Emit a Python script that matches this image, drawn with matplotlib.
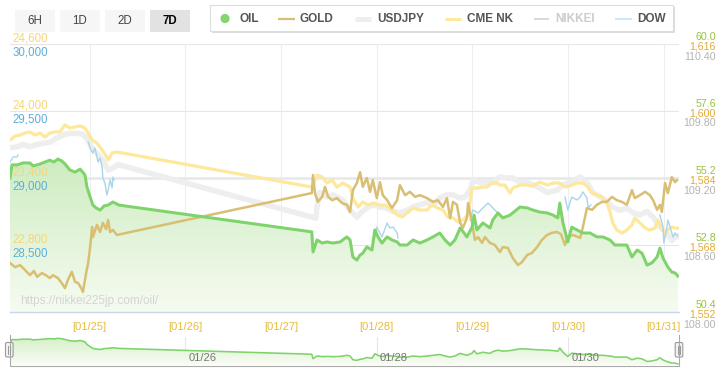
import numpy as np
import matplotlib
matplotlib.use('Agg')
import matplotlib.pyplot as plt
from matplotlib.patches import Rectangle, FancyBboxPatch, Circle
from matplotlib.transforms import blended_transform_factory, offset_copy

plt.rcParams['font.family'] = ['Liberation Sans', 'DejaVu Sans']

# ---------------- data (time = hours since 2020-01-24 00:00 JST) ----------------
oil_hours = [4.0, 4.5, 5.8, 7.3, 9.0, 9.8, 11.5, 14.0, 15.0, 16.0, 17.0, 17.8, 19.0, 20.3, 21.6, 22.8, 23.3, 24.1,
             24.8, 25.6, 26.6, 27.6, 28.6, 29.8, 30.8, 31.3,
             79.7, 80.0, 81.0, 82.3, 83.5, 85.0, 86.8, 88.5, 89.3, 90.0, 91.0, 91.8, 92.5, 93.5, 94.8, 95.5, 96.3,
             97.3, 98.6, 99.8, 101.1, 101.8, 103.6, 105.1, 106.8, 108.6, 110.1, 111.8, 113.1, 114.4, 115.6, 116.9,
             117.9, 118.6, 119.9, 120.4, 121.1, 122.6, 124.4, 125.1, 126.4, 127.6, 129.4, 130.7, 131.9, 133.7,
             135.2, 136.9, 138.7, 140.2, 141.4, 141.9, 142.7, 143.9, 144.9, 146.2, 147.7, 149.5, 151.2, 152.7,
             154.5, 155.7, 157.0, 158.7, 160.0, 161.3, 162.5, 163.8, 165.0, 166.3, 167.0, 167.8, 169.0, 170.0,
             170.8, 171.5]
oil_values = [55.20, 55.67, 55.67, 55.74, 55.74, 55.63, 55.70, 55.84, 55.77, 55.88, 55.81, 55.70, 55.49, 55.41,
              55.52, 55.31, 54.88, 54.52, 54.23, 54.13, 54.05, 54.20, 54.23, 54.34, 54.27, 54.23,
              53.27, 52.55, 52.98, 52.87, 52.91, 52.87, 52.91, 53.09, 52.98, 52.37, 52.26, 52.44, 52.51, 52.73,
              52.62, 53.34, 53.09, 52.87, 53.09, 52.98, 52.91, 52.80, 52.80, 52.98, 52.87, 52.98, 53.09, 53.23,
              52.98, 52.80, 52.98, 53.41, 53.23, 53.09, 53.44, 53.87, 53.34, 53.59, 53.41, 53.70, 53.95, 53.77,
              53.87, 54.02, 54.16, 54.13, 54.05, 53.98, 53.95, 53.87, 53.77, 54.30, 53.59, 52.91, 53.44, 53.34,
              53.23, 53.23, 53.09, 53.09, 52.98, 52.80, 52.80, 52.80, 52.37, 52.62, 52.51, 52.08, 52.16, 52.37,
              52.69, 52.33, 52.01, 51.83, 51.80, 51.69]

gold_hours = [4.0, 5.3, 6.5, 7.8, 9.0, 10.0, 10.8, 12.0, 13.0, 14.0, 14.8, 16.0, 17.0, 17.8, 18.5, 19.5, 20.3,
              21.1, 22.1, 22.3, 23.1, 23.6, 24.1, 24.6, 24.8, 25.8, 26.6, 27.3, 28.1, 28.6, 29.1, 29.8, 30.8,
              79.7, 80.0, 80.5, 81.2, 82.3, 83.0, 83.8, 84.8, 86.0, 87.3, 88.5, 89.3, 90.0, 91.0, 91.8, 92.5,
              93.5, 94.3, 95.0, 96.0, 96.8, 97.5, 98.6, 99.8, 101.1, 101.8, 103.1, 104.3, 105.6, 106.8, 108.6,
              110.1, 111.3, 112.6, 113.6, 114.4, 115.1, 116.1, 116.9, 117.6, 118.6, 118.9, 119.9, 120.6, 121.4,
              122.4, 123.1, 124.4, 125.6, 126.9, 127.6, 128.9, 130.1, 131.4, 132.4, 133.7, 134.9, 136.2, 137.4,
              138.7, 139.9, 141.2, 142.2, 143.2, 143.9, 145.2, 147.0, 147.7, 148.7, 150.0, 151.2, 152.5, 153.7,
              155.0, 156.2, 157.5, 158.7, 160.0, 160.7, 162.0, 163.3, 164.5, 165.3, 166.3, 167.0, 167.5, 168.3,
              169.0, 170.0, 170.8, 171.3]
gold_values = [1563.7, 1562.7, 1563.2, 1562.0, 1560.8, 1561.8, 1560.4, 1561.3, 1560.8, 1560.1, 1560.8, 1560.1,
               1558.9, 1557.7, 1559.6, 1561.6, 1559.2, 1558.9, 1557.3, 1556.8, 1561.3, 1563.7, 1567.5, 1572.3,
               1569.9, 1572.8, 1571.1, 1573.3, 1571.8, 1574.0, 1571.1, 1571.6, 1570.4,
               1580.4, 1584.7, 1580.4, 1578.3, 1579.5, 1581.9, 1579.5, 1578.7, 1579.2, 1578.0, 1577.6, 1575.9,
               1581.1, 1582.8, 1585.4, 1581.9, 1584.0, 1580.7, 1583.5, 1579.2, 1583.0, 1579.9, 1578.7, 1576.8,
               1578.7, 1582.3, 1579.9, 1580.7, 1579.5, 1579.9, 1579.2, 1578.3, 1578.7, 1577.1, 1579.2, 1574.4,
               1578.3, 1577.6, 1573.3, 1572.1, 1574.4, 1578.0, 1573.3, 1569.2, 1569.9, 1568.5, 1569.9, 1568.5,
               1568.0, 1566.3, 1567.5, 1567.3, 1564.9, 1563.2, 1563.9, 1565.6, 1566.1, 1567.5, 1569.2, 1570.4,
               1570.9, 1571.1, 1570.6, 1568.0, 1569.9, 1570.4, 1569.7, 1572.3, 1576.8, 1576.4, 1577.6, 1578.3,
               1578.3, 1579.5, 1578.7, 1578.3, 1577.6, 1581.1, 1579.2, 1579.9, 1580.7, 1579.9, 1578.7, 1576.4,
               1577.6, 1575.9, 1582.8, 1580.4, 1584.2, 1583.0, 1583.5]

usdjpy_hours = [4.0, 5.8, 7.3, 9.0, 10.8, 12.3, 14.0, 15.8, 17.8, 19.0, 20.8, 22.3, 23.6, 24.8, 26.1, 27.3, 28.6,
                29.8, 31.1,
                80.7, 81.0, 81.7, 83.5, 85.0, 87.5, 89.3, 91.0, 92.3, 93.5, 95.0, 96.8, 98.6, 100.1, 101.8, 103.6,
                105.1, 106.8, 108.6, 110.1, 111.8, 113.6, 115.1, 116.9, 118.1, 119.4, 120.1, 121.9, 123.6, 125.1,
                126.9, 128.6, 130.1, 131.9, 133.7, 135.2, 136.9, 138.7, 141.2, 142.7, 144.4, 147.0, 148.7, 150.2,
                152.0, 153.7, 155.2, 157.0, 158.7, 160.2, 162.0, 163.8, 165.3, 167.0, 168.8, 170.0, 170.8, 171.5]
usdjpy_values = [109.47, 109.48, 109.50, 109.48, 109.50, 109.51, 109.52, 109.56, 109.59, 109.60, 109.60, 109.59,
                 109.54, 109.45, 109.41, 109.36, 109.27, 109.29, 109.32,
                 108.84, 108.94, 109.07, 109.03, 109.05, 109.00, 108.91, 108.85, 108.90, 108.93, 108.96, 108.94,
                 108.93, 108.90, 108.89, 108.91, 108.94, 108.96, 108.98, 108.96, 109.02, 109.05, 109.05, 109.02,
                 109.03, 109.09, 109.18, 109.16, 109.16, 109.16, 109.21, 109.20, 109.20, 109.16, 109.16, 109.14,
                 109.11, 109.07, 109.09, 109.14, 109.16, 109.21, 109.16, 109.07, 109.03, 108.99, 108.94, 108.91,
                 108.93, 108.89, 108.87, 108.90, 108.85, 108.76, 108.71, 108.64, 108.67, 108.68]

cme_hours = [4.0, 5.3, 6.5, 7.8, 9.0, 10.3, 11.5, 12.8, 14.0, 15.3, 16.5, 17.8, 19.0, 20.3, 21.6, 22.8, 23.6, 24.6,
             25.8, 27.1, 28.3, 28.6, 29.6, 30.8,
             79.7, 80.0, 81.0, 82.3, 83.5, 84.8, 86.0, 87.5, 89.3, 90.0, 91.3, 92.5, 93.8, 95.0, 96.8, 98.1, 99.3,
             101.1, 102.3, 103.6, 105.1, 106.8, 108.6, 109.8, 111.3, 112.6, 113.8, 115.1, 116.4, 117.6, 118.9,
             119.9, 121.1, 122.4, 123.6, 124.9, 126.1, 126.9, 128.1, 129.4, 130.1, 131.9, 133.7, 135.2, 136.9,
             138.7, 140.2, 141.9, 143.2, 144.4, 146.2, 147.7, 148.7, 150.0, 151.2, 152.5, 153.7, 154.5, 155.2,
             156.2, 157.5, 158.7, 160.0, 160.7, 162.0, 163.3, 164.5, 165.8, 166.5, 167.5, 168.3, 169.0, 170.0,
             170.8, 171.5]
cme_values = [23740, 23776, 23785, 23803, 23812, 23785, 23803, 23767, 23803, 23812, 23812, 23875, 23848, 23857,
              23866, 23848, 23803, 23740, 23713, 23651, 23588, 23561, 23624, 23633,
              23319, 23337, 23427, 23409, 23355, 23382, 23319, 23355, 23319, 23221, 23140, 23185, 23158, 23176,
              23158, 23158, 23131, 23069, 23051, 23087, 23131, 23113, 23113, 23158, 23131, 23113, 23051, 23042,
              23006, 23024, 23069, 23310, 23310, 23319, 23319, 23355, 23355, 23337, 23337, 23266, 23310, 23337,
              23337, 23328, 23364, 23337, 23355, 23355, 23319, 23328, 23355, 23355, 23328, 23266, 23248, 23230,
              23176, 23096, 22997, 22934, 22907, 22934, 22979, 23042, 22997, 22952, 22934, 22952, 23024, 22952,
              22907, 22934, 22961, 22952, 22952]

# DOW trades only in US sessions: None separates the sessions
dow_hours = [4.0, 4.8, 5.8, 6.0, None,
             23.6, 24.3, 24.8, 25.3, 25.8, 26.1, 26.6, 27.1, 27.3, 27.8, 28.3, 28.6, 29.1, 29.6, 29.8, 30.1, None,
             95.5, 96.0, 97.3, 98.6, 99.3, 100.1, 101.1, 101.3, None,
             119.4, 120.1, 121.4, 122.6, 123.9, 124.9, 125.6, 126.1, None,
             143.2, 143.9, 144.9, 146.2, 147.0, 147.7, 148.7, 149.0, 149.7, None,
             167.0, 167.8, 168.0, 168.8, 169.0, 169.8, 170.3, 170.8, 171.5]
dow_values = [29119, 29157, 29157, 29172, None,
              29269, 29209, 29187, 29224, 29157, 29119, 29149, 29082, 29000, 28963, 28873, 28910, 28985, 28925,
              29007, 28985, None,
              28552, 28634, 28560, 28664, 28627, 28634, 28590, 28552, None,
              28687, 28761, 28739, 28776, 28813, 28784, 28761, 28746, None,
              28858, 28761, 28858, 28836, 28858, 28896, 28851, 28776, 28799, None,
              28724, 28634, 28515, 28634, 28687, 28612, 28560, 28590, 28567]

oil_ticks = [50.4, 52.8, 55.2, 57.6, 60.0]
gold_ticks = [1552, 1568, 1584, 1600, 1616]
usdjpy_ticks = [108.00, 108.60, 109.20, 109.80, 110.40]
cme_ticks = [22200, 22800, 23400, 24000, 24600]
dow_ticks = [28000, 28500, 29000, 29500, 30000]

day_ticks = [24, 48, 72, 96, 120, 144, 168]
day_labels = ['[01/25]', '[01/26]', '[01/27]', '[01/28]', '[01/29]', '[01/30]', '[01/31]']
nav_ticks = [48, 96, 144]
nav_labels = ['01/26', '01/28', '01/30']
time_range = [4.0, 171.8]

buttons = ['6H', '1D', '2D', '7D']
selected_button = '7D'
legend_names = ['OIL', 'GOLD', 'USDJPY', 'CME NK', 'NIKKEI', 'DOW']
watermark = 'https://nikkei225jp.com/oil/'

# ---------------- styles ----------------
OIL_C = '#7fd36b'
GOLD_C = '#d9bf73'
USD_C = '#eeeeee'
CME_C = '#fde89c'
NIK_C = '#d9d9d9'
DOW_C = '#a9d6eb'
PX = 0.72  # points per pixel at dpi 100

W, H = 726, 380
fig = plt.figure(figsize=(W / 100, H / 100), dpi=100)


def fx(px):
    return px / W


def fy(py):
    return 1 - py / H


PL, PR, PT, PB = 10, 679, 44, 312
ax = fig.add_axes([fx(PL), fy(PB), (PR - PL) / W, (PB - PT) / H])
ax.set_facecolor('white')
ax.set_xlim(*time_range)
ax.set_ylim(oil_ticks[0], oil_ticks[-1])
for s in ['top', 'left', 'right']:
    ax.spines[s].set_visible(False)
ax.spines['bottom'].set_color('#ccd6eb')
ax.spines['bottom'].set_linewidth(1.0)
ax.set_yticks(oil_ticks)
ax.tick_params(axis='y', length=0, labelleft=False, labelright=False)
ax.set_xticks(day_ticks)
ax.set_xticklabels(day_labels, color='#eabb38', fontsize=8)
ax.tick_params(axis='x', length=0, pad=7)
ax.grid(axis='y', color='#e6e6e6', lw=0.8)
ax.grid(axis='x', color='#eeeeee', lw=0.8)
ax.set_axisbelow(True)
ax.axhline(oil_ticks[2], color='#e8e8e8', lw=2.6 * PX, zorder=0.6)


def gradient_fill(axis, xs, ys, base, top_val, c_top, c_bot, z=1):
    poly = axis.fill_between(xs, ys, base, color='none', lw=0, zorder=z)
    t = np.linspace(0, 1, 256)[:, None, None]
    img = np.array(c_top)[None, None, :] * (1 - t) + np.array(c_bot)[None, None, :] * t
    img = np.repeat(img, 2, axis=1)
    im = axis.imshow(img, extent=[time_range[0], time_range[1], base, top_val], origin='upper',
                     aspect='auto', zorder=z, interpolation='bilinear')
    im.set_clip_path(poly.get_paths()[0], transform=axis.transData)


gradient_fill(ax, oil_hours, oil_values, oil_ticks[0], 56.0,
              (0.80, 0.925, 0.75), (0.965, 0.985, 0.945))
ax.set_xlim(*time_range)
ax.set_ylim(oil_ticks[0], oil_ticks[-1])

ax.text(0.015, 0.04, watermark, transform=ax.transAxes, color='#d4d4d4', fontsize=8.5,
        ha='left', va='center', zorder=1.5)


def twin(lims):
    a = ax.twinx()
    a.set_ylim(*lims)
    a.set_xlim(*time_range)
    a.axis('off')
    return a


ax_usd = twin((usdjpy_ticks[0], usdjpy_ticks[-1]))
ax_cme = twin((cme_ticks[0], cme_ticks[-1]))
ax_dow = twin((dow_ticks[0], dow_ticks[-1]))
ax_gold = twin((gold_ticks[0], gold_ticks[-1]))
ax_oil = twin((oil_ticks[0], oil_ticks[-1]))

ax_usd.plot(usdjpy_hours, usdjpy_values, color=USD_C, lw=5.5 * PX, solid_joinstyle='round')
ax_cme.plot(cme_hours, cme_values, color=CME_C, lw=3.2 * PX, solid_joinstyle='round')
dh = np.array([np.nan if v is None else v for v in dow_hours], dtype=float)
dv = np.array([np.nan if v is None else v for v in dow_values], dtype=float)
ax_dow.plot(dh, dv, color=DOW_C, lw=1.4 * PX, solid_joinstyle='round')
ax_gold.plot(gold_hours, gold_values, color=GOLD_C, lw=2.5 * PX, solid_joinstyle='round')
ax_oil.plot(oil_hours, oil_values, color=OIL_C, lw=3.0 * PX, solid_joinstyle='round')


# ---------------- axis labels ----------------
def side_labels(axis, ticks, fmt, color, xpix, ha, dy, size, skip_first=False):
    base = blended_transform_factory(fig.transFigure, axis.transData)
    tr = offset_copy(base, fig=fig, x=0, y=dy, units='dots')
    for i, v in enumerate(ticks):
        if skip_first and i == 0:
            continue
        fig.text(fx(xpix), v, fmt(v), transform=tr, color=color, ha=ha, va='center',
                 fontsize=size, clip_on=False)


side_labels(ax_oil, oil_ticks, lambda v: f'{v:.1f}', '#97c23e', 716, 'right', 7, 7.7)
side_labels(ax_gold, gold_ticks, lambda v: f'{v:,}', '#e2ab34', 716, 'right', -2.5, 7.7)
side_labels(ax_usd, usdjpy_ticks, lambda v: f'{v:.2f}', '#b4b4b4', 716, 'right', -12.5, 7.7)
side_labels(ax_cme, cme_ticks, lambda v: f'{v:,}', '#f5d67a', 12.5, 'left', 5.5, 8.3, skip_first=True)
side_labels(ax_dow, dow_ticks, lambda v: f'{v:,}', '#5eaed9', 12.5, 'left', -8.5, 8.3, skip_first=True)

# ---------------- navigator ----------------
NT, NB = 337, 365
nav = fig.add_axes([fx(PL), fy(NB), (PR - PL) / W, (NB - NT) / H])
nav.set_xlim(*time_range)
nav_ylim = (51.5, 56.1)
nav.set_ylim(*nav_ylim)
nav.axis('off')
for t in nav_ticks:
    nav.axvline(t, color='#e6e6e6', lw=0.8, zorder=0.5)
gradient_fill(nav, oil_hours, oil_values, nav_ylim[0], nav_ylim[1],
              (0.84, 0.94, 0.79), (0.975, 0.99, 0.96))
nav.set_xlim(*time_range)
nav.set_ylim(*nav_ylim)
nav.plot(oil_hours, oil_values, color=OIL_C, lw=1.6 * PX, zorder=3)
ntr = offset_copy(blended_transform_factory(nav.transData, nav.transAxes), fig=fig, x=3, y=0, units='dots')
for t, lab in zip(nav_ticks, nav_labels):
    nav.text(t, 0.25, lab, transform=ntr, color='#777777', fontsize=8, ha='left', va='center', zorder=4)

# ---------------- overlay (buttons, legend, navigator frame) ----------------
ov = fig.add_axes([0, 0, 1, 1], zorder=10)
ov.set_xlim(0, W)
ov.set_ylim(H, 0)
ov.axis('off')

bx = 15
for b in buttons:
    sel = (b == selected_button)
    ov.add_patch(Rectangle((bx, 10), 40, 22, fc='#e2e2e2' if sel else '#f6f6f6', ec='none'))
    ov.text(bx + 20, 21.5, b, ha='center', va='center', fontsize=8.3,
            color='#000000' if sel else '#444444', fontweight='bold' if sel else 'normal')
    bx += 45

# legend box with shadow
ov.add_patch(Rectangle((211.5, 6.5), 463, 26, fc='#d4d4d4', ec='none', alpha=0.8))
ov.add_patch(Rectangle((210, 5), 463, 26, fc='white', ec='#dddddd', lw=0.8))
ly = 18.5
ov.add_patch(Circle((225, ly), 4.6, fc='#86d46f', ec='none'))
ov.plot([278, 295], [ly, ly], color=GOLD_C, lw=2.2 * PX, solid_capstyle='butt')
ov.plot([355, 371], [ly, ly], color='#eeeeee', lw=5 * PX, solid_capstyle='butt')
ov.plot([445, 461], [ly, ly], color=CME_C, lw=3 * PX, solid_capstyle='butt')
ov.plot([534, 549], [ly, ly], color=NIK_C, lw=2 * PX, solid_capstyle='butt')
ov.plot([615, 632], [ly, ly], color='#cde8f4', lw=2 * PX, solid_capstyle='butt')
for name, x in zip(legend_names, [239, 300, 377, 467, 555, 637]):
    ov.text(x, ly + 0.5, name, ha='left', va='center', fontsize=8.5, fontweight='bold',
            color='#cccccc' if name == 'NIKKEI' else '#555555')

# navigator outline and handles
ov.plot([9.5, 9.5, PR, PR], [335, NB + 0.5, NB + 0.5, 335], color='#aaaaaa', lw=0.8)
for hx in [9.3, 679]:
    ov.add_patch(FancyBboxPatch((hx - 3.8, 342.5), 7.6, 14.5, boxstyle='round,pad=0,rounding_size=1.5',
                                fc='#f2f2f2', ec='#999999', lw=0.8))
    ov.plot([hx - 1, hx - 1], [346, 353.5], color='#999999', lw=0.7)
    ov.plot([hx + 1, hx + 1], [346, 353.5], color='#999999', lw=0.7)

fig.savefig('out.png', dpi=100)
